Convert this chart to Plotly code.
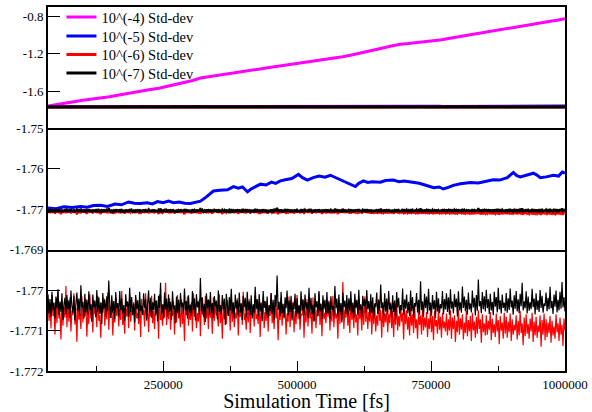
import numpy as np
import plotly.graph_objects as go
from plotly.subplots import make_subplots

# ---------------- data ----------------
SERIES_NAMES = ["10^(-4) Std-dev", "10^(-5) Std-dev", "10^(-6) Std-dev", "10^(-7) Std-dev"]
COLORS = ["#ff00ff", "#0000ff", "#ff0000", "#000000"]

# 10^-4 (magenta): slow drift upward
mag_t = [35000, 52000, 71500, 86000, 100000, 117000, 133000, 150000, 165000, 180000, 194600, 210000,
         226000, 242000, 258000, 274000, 290000, 305000, 319600, 335000, 350000, 365000, 380000,
         396000, 412900, 428000, 445000, 460000, 475000, 490000, 506100, 523000, 540000, 555000,
         570000, 585000, 599400, 615000, 630000, 645000, 660000, 676000, 692700, 708000, 725000,
         740000, 754300, 770000, 785000, 800000, 817700, 833000, 850000, 865000, 879300, 895000,
         910000, 925000, 940900, 955000, 970000, 985000, 1000000]
mag_v = [-1.760, -1.742, -1.723, -1.712, -1.700, -1.688, -1.670, -1.661, -1.645, -1.632, -1.614, -1.603,
         -1.585, -1.570, -1.550, -1.532, -1.505, -1.487, -1.461, -1.447, -1.430, -1.418, -1.402,
         -1.392, -1.376, -1.366, -1.352, -1.340, -1.326, -1.316, -1.301, -1.283, -1.268, -1.258,
         -1.245, -1.232, -1.216, -1.198, -1.180, -1.162, -1.140, -1.118, -1.099, -1.092, -1.082,
         -1.074, -1.063, -1.050, -1.035, -1.020, -1.003, -0.992, -0.975, -0.958, -0.939, -0.927,
         -0.912, -0.900, -0.885, -0.870, -0.855, -0.842, -0.825]

# 10^-5 (blue)
blu_t = [35000, 50000, 65000, 80000, 95700, 108000, 120000, 133000, 146000, 160000, 172000, 185300,
         196000, 207600, 220000, 230000, 239400, 250000, 260000, 269200, 280000, 290000, 300900,
         310000, 319600, 330000, 343800, 356000, 370000, 381200, 390000, 398000, 407300, 414000,
         422000, 431500, 442000, 452000, 460000, 468800, 478000, 490000, 502400, 510000, 519200,
         530000, 541000, 552000, 562100, 572000, 580800, 590000, 600000, 608800, 615000, 623700,
         632000, 640000, 655400, 665000, 679600, 690000, 700000, 716900, 728000, 743100, 755000,
         765000, 772900, 782000, 791600, 805000, 823300, 838000, 855000, 866000, 878000, 892400,
         903600, 910000, 916600, 928000, 940900, 947000, 953900, 965000, 978200, 988000, 995000,
         1000000]
blu_v = [-1.7697, -1.7699, -1.7694, -1.7696, -1.7693, -1.7695, -1.7691, -1.7690, -1.7693, -1.7687,
         -1.7689, -1.7682, -1.7685, -1.7686, -1.7684, -1.7687, -1.7681, -1.7684, -1.7680, -1.7684,
         -1.7682, -1.7685, -1.7686, -1.7683, -1.7680, -1.7670, -1.7655, -1.7653, -1.7652, -1.7644,
         -1.7648, -1.7645, -1.7657, -1.7650, -1.7645, -1.7638, -1.7640, -1.7633, -1.7636, -1.7630,
         -1.7627, -1.7624, -1.7614, -1.7622, -1.7628, -1.7622, -1.7618, -1.7621, -1.7616, -1.7622,
         -1.7628, -1.7634, -1.7640, -1.7644, -1.7636, -1.7630, -1.7634, -1.7632, -1.7633, -1.7629,
         -1.7628, -1.7632, -1.7630, -1.7634, -1.7636, -1.7642, -1.7647, -1.7645, -1.7650, -1.7646,
         -1.7641, -1.7637, -1.7634, -1.7635, -1.7630, -1.7627, -1.7628, -1.7622, -1.7609, -1.7617,
         -1.7620, -1.7616, -1.7611, -1.7615, -1.7622, -1.7620, -1.7616, -1.7618, -1.7608, -1.7611]

# 10^-6 (red) and 10^-7 (black): noisy, offsets from -1.77 in units of 1e-5,
# sampled at a uniform time step between NOISE_T_START and NOISE_T_END
NOISE_BASE = -1.77
NOISE_UNIT = 1e-5
NOISE_T_START = 35000
NOISE_T_END = 1000000

red_off = [
    -20, -76, -38, -95, -12, -64, -48, -110, -30, -82, -5, -70, -55, -122, -25, -88, -42, -68, 10, -92,
    -35, -78, -18, -102, -50, -62, -8, -85, -44, -128, -28, -73, -58, -96, -15, -80, -40, -66, -22, -115,
    -52, -84, -10, -70, -36, -105, -26, -60, -48, -92, -14, -76, -62, -118, -32, -56, -20, -88, -45, -72,
    -6, -98, -40, -68, -24, -112, -54, -80, -16, -64, -34, -90, -46, -74, -2, -86, -58, -108, -28, -66,
    -42, -94, -12, -78, -50, -60, -30, -100, -18, -70, -56, -84, -38, -116, -22, -62, -48, -90, -8, -76,
    -32, -104, -44, -66, -14, -82, -52, -96, -26, -58, -40, -120, -10, -74, -60, -88, -36, -68, 18, -86,
    -46, -72, -20, -98, -54, -64, -28, -110, -38, -80, -12, -70, -58, -92, -24, -84, -44, -126, -34, -62,
    -16, -88, -50, -74, -30, -102, -8, -66, -42, -94, -56, -78, -22, -114, -36, -60, -48, -86, -14, -70,
    -40, -96, -26, -68, -52, -108, -18, -76, -34, -62, -60, -90, -10, -82, -46, -120, -30, -72, -54, -84,
    -24, -64, -44, -100, -12, -78, -38, -92, -56, -70, -20, -112, -48, -66, -32, -86, -4, -74, -58, -98,
    -36, -80, -22, -106, -50, -62, -42, -90, -14, -72, -60, -84, -28, -116, -40, -68, -18, -94, -54, -76,
    -30, -102, -46, -64, -8, -82, -56, -96, -26, -70, -38, -124, -50, -74, -20, -88, -44, -66, -34, -110,
    -58, -78, -16, -92, -42, -68, -28, -104, -52, -84, -12, -72, -36, -98, -60, -62, -24, -118, -46, -80,
    -22, -90, -40, -70, -54, -108, -18, -76, -32, -94, -48, -64, -6, -86, -44, -114, -30, -72, -56, -82,
    -38, -66, -26, -100, -50, -78, -14, -92, -42, -70, -58, -120, -28, -84, -36, -74, 20, -96, -48, -68,
    -32, -88, -52, -106, -20, -74, -44, -94, -30, -80, -60, -112, -24, -72, -46, -100, -36, -86, -16, -78,
    -40, -96, -54, -78, -28, -110, -48, -84, -34, -102, -62, -88, -22, -76, -50, -118, -42, -92, -58, -80,
    -36, -104, -60, -82, -30, -94, -52, -116, -44, -86, -26, -100, -64, -90, -38, -78, -56, -122, -46, -84,
    -50, -98, -66, -112, -42, -88, -60, -106, -34, -94, -72, -120, -48, -86, -62, -110, -40, -100, -68, -92,
    -54, -116, -70, -96, -46, -104, -64, -124, -52, -90, -74, -108, -44, -98, -66, -118, -56, -94, -78, -102,
    -58, -112, -72, -100, -50, -120, -68, -96, -62, -128, -76, -104, -48, -110, -70, -98, -60, -122, -80, -106,
    -52, -114, -74, -102, -64, -126, -56, -100, -78, -118, -66, -108, -50, -96, -72, -130, -60, -104, -82, -112,
    -62, -110, -76, -98, -54, -124, -70, -106, -84, -116, -58, -102, -74, -134, -64, -100, -80, -120, -56, -108,
    -66, -118, -78, -104, -58, -126, -72, -110, -86, -100, -62, -122, -76, -112, -52, -106, -82, -136, -68, -114,
    -60, -108, -84, -120, -70, -102, -56, -128, -78, -112, -66, -118, -88, -104, -62, -140, -74, -110, -58, -124,
    -72, -116, -80, -106, -64, -130, -76, -112, -90, -120, -60, -104, -82, -126, -68, -110, -86, -138, -70, -100,
]

blk_off = [
    -10, -58, -22, -66, -4, -50, -31, -70, -16, -45, 2, -62, -28, -54, -8, -73, -36, -19, -60, -12,
    -47, -25, -68, -1, -40, -57, -14, -75, -33, -6, -52, -21, -64, 12, -43, -29, -71, -9, -55, -24,
    -61, -3, -48, -35, -78, -11, -42, -26, -67, 0, -53, -18, -59, -30, -84, -7, -46, -23, -63, -15,
    -51, 24, -38, -69, -13, -56, -27, -72, -5, -44, -32, -65, -2, -49, -20, -58, -37, -76, -10, -41,
    -28, -66, 6, -54, -17, -62, -34, -80, -12, -47, -25, -70, -4, -52, -39, -61, -8, -45, -22, -74,
    -33, -1, -57, -19, -68, -30, -50, -9, -63, -26, -77, -14, -44, 18, -60, -35, -71, -6, -48, -21,
    -65, -11, -53, -29, -73, -3, -46, -38, -82, -16, -56, -24, -67, -7, -42, -31, -59, 4, -50, -27,
    -70, -13, -55, -36, -64, -2, -49, -20, -75, -10, -43, -28, -61, 30, -52, -18, -66, -34, -79, -8,
    -45, -23, -62, -5, -57, -32, -69, -15, -40, -26, -72, -1, -54, -37, -60, -12, -48, -21, -86, -9,
    -39, -64, -17, -51, 3, -58, -30, -71, -11, -46, -25, -63, -6, -55, -33, -74, -14, -42, -19, -67,
    -4, -50, -28, -61, -13, -70, -35, -56, 8, -47, -22, -65, -10, -53, -31, -77, -2, -44, -27, -60,
    -16, -68, -37, -52, -7, -59, -24, -73, -12, -41, 36, -49, -29, -64, -5, -57, -34, -70, -18, -45,
    -1, -62, -26, -54, -14, -75, -32, -48, -9, -66, -20, -58, -38, -71, -3, -51, -23, -63, -11, -46,
    -30, -69, 6, -55, -19, -60, -36, -78, -8, -43, -27, -65, -2, -52, -33, -72, -13, -47, -24, -61,
    -5, -57, -29, -70, -15, -49, -39, -63, 10, -45, -21, -67, -11, -54, -32, -80, -6, -42, -26, -59,
    -12, -64, -20, -52, -3, -58, -31, -68, -9, -44, -24, -61, 1, -50, -35, -66, -14, -40, -22, -55,
    0, -47, -27, -63, -10, -56, -18, -70, -33, -42, -6, -59, -25, -51, 14, -45, -30, -65, -8, -53,
    -21, -60, -2, -48, -34, -67, -13, -54, -26, -72, -5, -43, -19, -58, -37, -50, 4, -62, -23, -46,
    -11, -57, -29, -64, -1, -52, -17, -69, -32, -41, -7, -55, -24, -61, 22, -49, -28, -66, -9, -44,
    -16, -59, 3, -50, -31, -63, -12, -47, -25, -68, -4, -53, -20, -57, -35, -45, -2, -60, -22, -48,
    -8, -54, -18, -61, 2, -46, -28, -58, -10, -42, -21, -65, -3, -50, -30, -56, 9, -44, -16, -52,
    -24, -60, -6, -48, -33, -55, -1, -43, -19, -63, -12, -51, 26, -40, -27, -57, -5, -47, -15, -53,
    1, -45, -22, -59, -9, -50, -29, -62, -4, -41, -17, -55, 6, -48, -25, -58, -11, -44, -31, -52,
    -7, -56, -20, -49, 4, -43, -26, -61, -13, -46, -2, -53, -23, -57, -9, -40, 18, -50, -28, -45,
    -3, -58, -16, -51, -30, -47, 3, -42, -21, -60, -8, -49, -25, -54, 0, -44, -14, -56, -33, -39,
    -6, -52, -19, -48, 8, -45, -27, -59, -11, -41, -1, -55, -24, -50, -4, -46, 20, -43, -18, -53,
]

X_RANGE = [35000, 1000000]
X_TICKS = [250000, 500000, 750000, 1000000]
X_TICK_TEXT = ["250000", "500000", "750000", "1000000"]
X_MINOR = [125000, 375000, 625000, 875000]

Y1_RANGE = [-2.0, -0.7]
Y1_TICKS = [-0.8, -1.2, -1.6]
Y1_TEXT = ["-0.8", "-1.2", "-1.6"]
Y2_RANGE = [-1.78, -1.75]
Y2_TICKS = [-1.75, -1.76, -1.77]
Y2_TEXT = ["-1.75", "-1.76", "-1.77"]
Y3_RANGE = [-1.772, -1.769]
Y3_TICKS = [-1.769, -1.77, -1.771, -1.772]
Y3_TEXT = ["-1.769", "-1.77", "-1.771", "-1.772"]

# ---------------- build ----------------
red_v = NOISE_BASE + np.array(red_off) * NOISE_UNIT
blk_v = NOISE_BASE + np.array(blk_off) * NOISE_UNIT
red_t = np.linspace(NOISE_T_START, NOISE_T_END, len(red_off))
blk_t = np.linspace(NOISE_T_START, NOISE_T_END, len(blk_off))

FONT = "Liberation Serif, Times New Roman, serif"

fig = make_subplots(rows=3, cols=1, shared_xaxes=True, vertical_spacing=0)

series = [(mag_t, mag_v), (blu_t, blu_v), (red_t, red_v), (blk_t, blk_v)]
LEGEND_IDS = ["legend", "legend2", "legend3", "legend4"]

# top panel: all four (each with its own one-entry legend, stacked tightly)
for i, (t, v) in enumerate(series):
    fig.add_trace(go.Scatter(x=t, y=v, mode="lines", name=SERIES_NAMES[i],
                             line=dict(color=COLORS[i], width=3), showlegend=True,
                             legend=LEGEND_IDS[i]), row=1, col=1)
# middle panel: blue, red, black
for i in [1, 2, 3]:
    t, v = series[i]
    fig.add_trace(go.Scatter(x=t, y=v, mode="lines", name=SERIES_NAMES[i],
                             line=dict(color=COLORS[i], width=3 if i == 1 else 2.2),
                             showlegend=False), row=2, col=1)
# bottom panel: red, black
for i in [2, 3]:
    t, v = series[i]
    fig.add_trace(go.Scatter(x=t, y=v, mode="lines", name=SERIES_NAMES[i],
                             line=dict(color=COLORS[i], width=1.2),
                             showlegend=False), row=3, col=1)

LW = 2
axis_common = dict(showline=True, linecolor="black", linewidth=LW,
                   showgrid=False, zeroline=False, automargin=False,
                   tickfont=dict(family=FONT, size=13, color="black"))

fig.update_xaxes(range=X_RANGE, mirror=True, **axis_common, row=1, col=1)
fig.update_xaxes(range=X_RANGE, mirror=False, **axis_common, row=2, col=1)
fig.update_xaxes(range=X_RANGE, mirror=False, **axis_common, row=3, col=1)
fig.update_xaxes(showticklabels=False, ticks="", row=1, col=1)
fig.update_xaxes(showticklabels=False, ticks="", row=2, col=1)
fig.update_xaxes(tickmode="array", tickvals=X_TICKS, ticktext=X_TICK_TEXT,
                 ticks="inside", ticklen=10, tickwidth=1, tickcolor="black",
                 minor=dict(tickmode="array", tickvals=X_MINOR, ticks="inside",
                            ticklen=5, tickwidth=1, tickcolor="black"),
                 title=dict(text="Simulation Time [fs]",
                            font=dict(family=FONT, size=20, color="black"), standoff=5),
                 row=3, col=1)

yspec = [(Y1_RANGE, Y1_TICKS, Y1_TEXT, 0.0), (Y2_RANGE, Y2_TICKS, Y2_TEXT, 1e-7),
         (Y3_RANGE, Y3_TICKS, Y3_TEXT, 1e-7)]
for r, (rng, tv, tt, e) in enumerate(yspec, start=1):
    fig.update_yaxes(range=[rng[0] - e, rng[1] + e], tickmode="array", tickvals=tv, ticktext=tt,
                     ticks="inside", ticklen=12, tickwidth=1, tickcolor="black",
                     mirror=True, **axis_common, row=r, col=1)

legend_style = dict(x=0.026, xanchor="left", yanchor="middle",
                    bgcolor="rgba(0,0,0,0)", font=dict(family=FONT, size=14.5, color="black"),
                    itemwidth=30, tracegroupgap=0)
LEGEND_Y = [0.9725, 0.9203, 0.8695, 0.8187]

fig.update_layout(
    width=592, height=412,
    margin=dict(l=48, r=27, t=7, b=41, autoexpand=False),
    paper_bgcolor="white", plot_bgcolor="white",
    font=dict(family=FONT, size=13, color="black"),
    legend=dict(y=LEGEND_Y[0], **legend_style),
    legend2=dict(y=LEGEND_Y[1], **legend_style),
    legend3=dict(y=LEGEND_Y[2], **legend_style),
    legend4=dict(y=LEGEND_Y[3], **legend_style),
)

# remove the browser's default 8px page margin so the figure sits at the window's corner
fig.write_html("out.html", config={"displayModeBar": False},
               post_script="document.body.style.margin='0px';")
